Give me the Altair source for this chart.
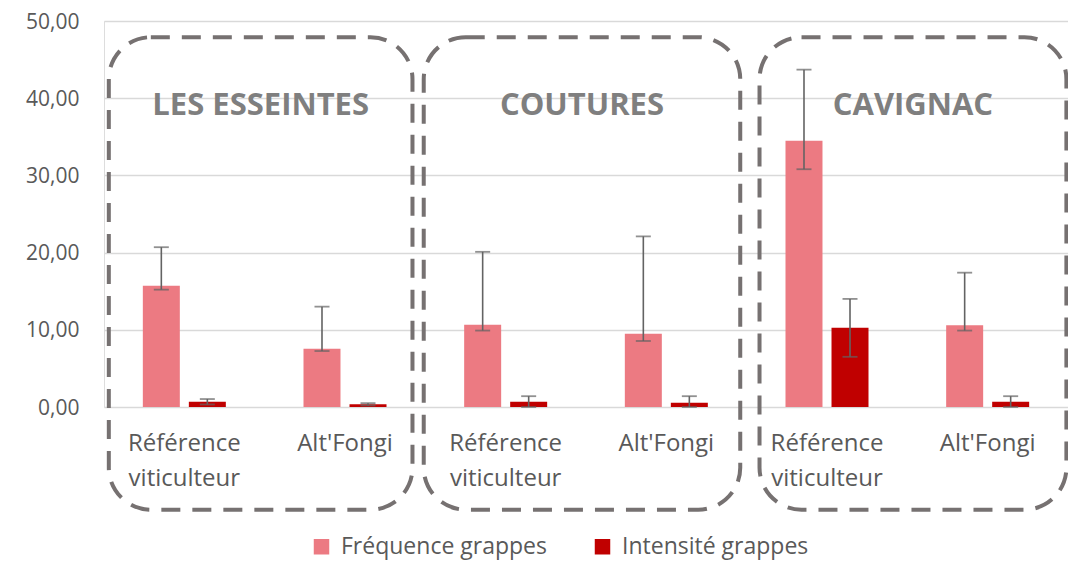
import altair as alt
import pandas as pd

# ---- data ----
groups = ["LES ESSEINTES", "COUTURES", "CAVIGNAC"]
treatments = ["Référence viticulteur", "Alt'Fongi"]
series = ["Fréquence grappes", "Intensité grappes"]

freq = [15.7, 7.55, 10.65, 9.5, 34.5, 10.6]
freq_low = [15.2, 7.25, 9.9, 8.55, 30.8, 9.9]
freq_high = [20.7, 13.0, 20.1, 22.1, 43.7, 17.4]

inten = [0.68, 0.35, 0.68, 0.56, 10.27, 0.68]
inten_low = [0.33, 0.2, 0.0, 0.0, 6.5, 0.0]
inten_high = [1.03, 0.5, 1.4, 1.4, 14.0, 1.4]

# dashed annotation boxes (x in category slots 0..6, y in data units)
box_x0 = [0.03, 1.99, 4.08]
box_x1 = [1.92, 3.96, 5.99]
box_y0 = -13.3
box_y1 = 47.9
title_y = 39.0

y_ticks = [0, 10, 20, 30, 40, 50]

# ---- tables ----
rows = []
cats = []
for gi, g in enumerate(groups):
    for ti, t in enumerate(treatments):
        i = gi * 2 + ti
        key = f"{g}|{t}"
        cats.append(key)
        rows.append(dict(cat=key, serie=series[0], value=freq[i], low=freq_low[i], high=freq_high[i]))
        rows.append(dict(cat=key, serie=series[1], value=inten[i], low=inten_low[i], high=inten_high[i]))
df = pd.DataFrame(rows)

boxes = pd.DataFrame(dict(
    group=groups,
    x0=box_x0,
    x1=box_x1,
    xc=[(a + b) / 2 for a, b in zip(box_x0, box_x1)],
    y0=[box_y0] * 3,
    y1=[box_y1] * 3,
    ty=[title_y] * 3,
))

FONT = "Open Sans"
GRAY = "#595959"
ERR = "#636363"

yscale = alt.Scale(domain=[0, 50], nice=False)

x_enc = alt.X(
    "cat:N", sort=cats, title=None,
    scale=alt.Scale(paddingInner=0, paddingOuter=0),
    axis=alt.Axis(
        labelExpr="split(split(datum.value, '|')[1], ' ')",
        labelAngle=0, ticks=False, domain=False, grid=False,
        labelFont=FONT, labelFontSize=24, labelColor=GRAY,
        labelLineHeight=35, labelPadding=24, labelBaseline="top",
        labelLimit=300,
    ),
)
xo_enc = alt.XOffset(
    "serie:N", sort=series,
    scale=alt.Scale(domain=series, paddingInner=0.196, paddingOuter=0.844),
)
y_axis = alt.Axis(
    values=y_ticks,
    labelExpr="replace(format(datum.value, '.2f'), '.', ',')",
    ticks=False, domain=False, grid=True, gridColor="#d9d9d9", gridWidth=1.3,
    labelFont=FONT, labelFontSize=21, labelColor=GRAY, labelPadding=25,
    labelOffset=1,
)

base = alt.Chart(df)

bars = base.mark_bar().encode(
    x=x_enc,
    xOffset=xo_enc,
    y=alt.Y("value:Q", scale=yscale, title=None, axis=y_axis),
    color=alt.Color(
        "serie:N",
        scale=alt.Scale(domain=series, range=["#EC7A82", "#C00000"]),
        legend=alt.Legend(
            title=None, orient="none", legendX=206, legendY=514,
            direction="horizontal", symbolType="square", symbolSize=240,
            labelFont=FONT, labelFontSize=23, labelColor=GRAY,
            labelLimit=300, columnPadding=44, labelOffset=8,
            symbolStrokeWidth=0,
        ),
    ),
)

rules = base.mark_rule(color=ERR, strokeWidth=1.6).encode(
    x=x_enc, xOffset=xo_enc,
    y=alt.Y("low:Q", scale=yscale, title=None),
    y2="high:Q",
)
cap_low = base.mark_tick(color=ERR, size=15, thickness=1.8, orient="horizontal").encode(
    x=x_enc, xOffset=xo_enc,
    y=alt.Y("low:Q", scale=yscale, title=None),
)
cap_high = base.mark_tick(color=ERR, size=15, thickness=1.8, orient="horizontal").encode(
    x=x_enc, xOffset=xo_enc,
    y=alt.Y("high:Q", scale=yscale, title=None),
)

data_layer = alt.layer(bars, rules, cap_low, cap_high)

bx = alt.X("x0:Q", scale=alt.Scale(domain=[0, 6], nice=False, zero=False), axis=None, title=None)
box_rects = alt.Chart(boxes).mark_rect(
    fill="transparent", stroke="#767171", strokeWidth=4,
    strokeDash=[19, 12], cornerRadius=42,
).encode(
    x=bx, x2="x1:Q",
    y=alt.Y("y0:Q", scale=yscale, title=None), y2="y1:Q",
)
box_titles = alt.Chart(boxes).mark_text(
    font=FONT, fontWeight="bold", fontSize=31, color="#7f7f7f", baseline="middle",
).encode(
    x=alt.X("xc:Q", scale=alt.Scale(domain=[0, 6], nice=False, zero=False), axis=None, title=None),
    y=alt.Y("ty:Q", scale=yscale, title=None),
    text="group:N",
)
box_layer = alt.layer(box_rects, box_titles)

chart = alt.layer(data_layer, box_layer).resolve_scale(x="independent").properties(
    width=964, height=386,
    autosize=alt.AutoSizeParams(type="none"),
    padding={"left": 96, "top": 13, "right": 0, "bottom": 157},
).configure_view(stroke=None).configure(background="white")

chart.save("out.html", embed_options={"renderer": "svg", "actions": False})
